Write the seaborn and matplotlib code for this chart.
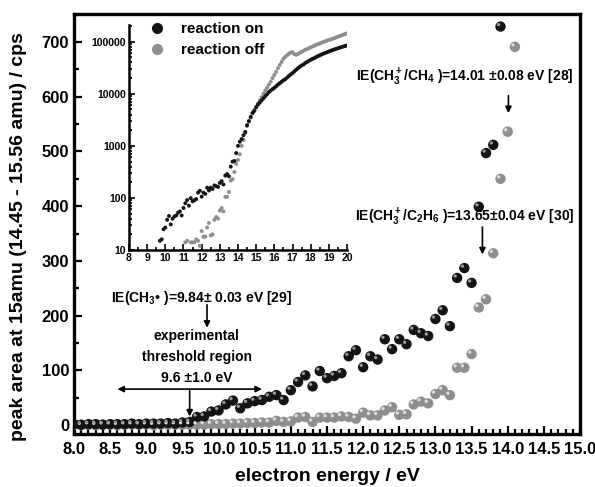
import numpy as np
import pandas as pd
import matplotlib
matplotlib.use('Agg')
import matplotlib.pyplot as plt
import matplotlib.transforms as mtransforms
from matplotlib.lines import Line2D
from matplotlib.ticker import MultipleLocator, LogLocator, NullFormatter
import seaborn as sns

######## data (0.1 eV steps) ########
energy_on = np.round(np.arange(80, 140) / 10, 1)     # 8.0 ... 13.9 eV
counts_on = [2, 1, 2, 2, 1, 2, 2, 2, 3, 2, 3, 3, 3, 4, 3,
             5, 6, 15, 16, 25, 27, 38, 45, 31, 40, 44, 46, 52, 55, 46,
             64, 79, 91, 71, 99, 86, 90, 95, 126, 137,
             106, 126, 120, 157, 139, 157, 148, 174, 168, 163,
             194, 210, 181, 269, 287, 260, 399, 497, 512, 728]

energy_off = np.round(np.arange(80, 142) / 10, 1)    # 8.0 ... 14.1 eV
counts_off = [1, 0, 1, 0, 1, 1, 0, 1, 1, 1, 1, 0, 1, 1, 1, 1, 1,
              1, 1, 2, 2, 2, 3, 3, 4, 4, 5, 5, 8, 6,
              7, 14, 15, 6, 14, 14, 14, 16, 15, 12,
              23, 18, 18, 27, 33, 19, 20, 38, 43, 40,
              57, 64, 55, 105, 105, 130, 215, 230, 314, 450, 536, 691]

# inset (log scale) continues both scans up to 20 eV
tail_energy_on = np.round(np.arange(140, 201) / 10, 1)   # 14.0 ... 20.0
tail_counts_on = [1000, 1200, 1350, 1600, 1850, 2500, 3000, 3600, 4300, 4700,
                  5500, 6200, 6800, 7500, 8200, 9000, 9800, 10800, 11500, 12300,
                  13000, 14000, 15000, 16000, 17000, 18200, 19000, 20500, 22000, 23500,
                  25000, 27000, 29000, 31000, 33000, 35000, 36500, 39000, 41000, 43000,
                  45000, 47000, 48500, 51000, 53000, 55000, 57000, 59000, 61000, 63000,
                  65000, 67000, 69000, 71000, 73000, 75000, 77000, 79000, 81000, 83000, 85000]

tail_energy_off = np.round(np.arange(142, 201) / 10, 1)  # 14.2 ... 20.0
tail_counts_off = [1000, 1300, 1750, 2400, 2900, 3500, 4200, 4900,
                   5600, 6500, 7500, 8600, 10000, 11500, 13000, 15000, 17000, 20000,
                   23000, 26500, 31000, 36000, 41000, 47000, 51000, 55000, 59000, 62000,
                   63000, 58000, 56000, 58000, 61000, 64000, 67000, 70000, 72000, 75000,
                   78000, 81000, 84000, 87000, 90000, 93000, 96000, 99000, 102000, 105000,
                   108000, 111000, 114000, 117000, 121000, 125000, 129000, 133000, 137000, 141000, 145000]

labels = ['reaction on', 'reaction off']

main_df = pd.concat([
    pd.DataFrame({'energy': energy_off, 'counts': counts_off, 'reaction': labels[1]}),
    pd.DataFrame({'energy': energy_on, 'counts': counts_on, 'reaction': labels[0]}),
], ignore_index=True)

inset_df = pd.concat([
    pd.DataFrame({'energy': np.concatenate([energy_off, tail_energy_off]),
                  'counts': counts_off + tail_counts_off, 'reaction': labels[1]}),
    pd.DataFrame({'energy': np.concatenate([energy_on, tail_energy_on]),
                  'counts': counts_on + tail_counts_on, 'reaction': labels[0]}),
], ignore_index=True)
inset_df = inset_df[inset_df['counts'] > 0]

base_pal = {labels[0]: '#141414', labels[1]: '#8e8e8e'}
shine_pal = {labels[0]: '#9a9a9a', labels[1]: '#dedede'}

######## style ########
sns.set_theme(style='ticks')
plt.rcParams['font.family'] = ['Liberation Sans', 'DejaVu Sans']
plt.rcParams['font.weight'] = 'bold'
plt.rcParams['axes.labelweight'] = 'bold'
plt.rcParams['text.color'] = 'black'
plt.rcParams['axes.labelcolor'] = 'black'
plt.rcParams['xtick.color'] = 'black'
plt.rcParams['ytick.color'] = 'black'
plt.rcParams['mathtext.fontset'] = 'custom'
plt.rcParams['mathtext.rm'] = 'Liberation Sans:bold'
plt.rcParams['mathtext.it'] = 'Liberation Sans:bold'
plt.rcParams['mathtext.bf'] = 'Liberation Sans:bold'


def draw_balls(ax, df, size, shine=True):
    sns.scatterplot(data=df, x='energy', y='counts', hue='reaction', palette=base_pal,
                    s=size, linewidth=0, legend=False, ax=ax, zorder=3)
    if shine:
        sns.scatterplot(data=df, x='energy', y='counts', hue='reaction', palette=shine_pal,
                        s=size * 0.1, linewidth=0, legend=False, ax=ax, zorder=4)
        hl = ax.collections[-1]
        hl.set_offset_transform(mtransforms.offset_copy(ax.transData, fig=ax.figure,
                                                        x=-1.4, y=1.4, units='points'))


fig = plt.figure(figsize=(5.95, 4.87), dpi=100)
ax = fig.add_axes([0.1244, 0.1088, 0.8504, 0.8625])

draw_balls(ax, main_df, 56)

ax.set_xlim(8.0, 15.0)
ax.set_ylim(-16, 751)
ax.xaxis.set_major_locator(MultipleLocator(0.5))
ax.xaxis.set_minor_locator(MultipleLocator(0.1))
ax.yaxis.set_major_locator(MultipleLocator(100))
ax.yaxis.set_minor_locator(MultipleLocator(50))
ax.xaxis.set_major_formatter(plt.FuncFormatter(lambda v, p: '%.1f' % v))
ax.tick_params(which='both', direction='in', width=1.6, labelsize=12, top=False, right=False)
ax.tick_params(which='major', length=6)
ax.tick_params(which='minor', length=3.5)
ax.tick_params(axis='x', pad=6)
for sp in ax.spines.values():
    sp.set_linewidth(2.4)
    sp.set_color('black')

ax.set_xlabel('electron energy / eV', fontsize=14, labelpad=8)
ax.set_ylabel('peak area at 15amu (14.45 - 15.56 amu) / cps', fontsize=14)
ax.yaxis.set_label_coords(-0.092, 0.47)

######## annotations ########
arrow = dict(arrowstyle='-|>', color='black', lw=1.2, mutation_scale=9, shrinkA=0, shrinkB=0)
txt = dict(fontsize=10, fontweight='bold', ha='center', va='center')

ax.text(13.41, 636, r'IE(CH$_3^+$/CH$_4$ )=14.01 ±0.08 eV [28]', **txt)
ax.annotate('', xy=(14.01, 570), xytext=(14.01, 602), arrowprops=arrow)

ax.text(13.41, 380, r'IE(CH$_3^+$/C$_2$H$_6$ )=13.65±0.04 eV [30]', **txt)
ax.annotate('', xy=(13.65, 312), xytext=(13.65, 362), arrowprops=arrow)

ax.text(9.77, 232, r'IE(CH$_3$• )=9.84± 0.03 eV [29]', **txt)
ax.annotate('', xy=(9.84, 178), xytext=(9.84, 220), arrowprops=arrow)

ax.text(9.70, 163, 'experimental', **txt)
ax.text(9.70, 124, 'threshold region', **txt)
ax.text(9.70, 86, '9.6 ±1.0 eV', **txt)
ax.annotate('', xy=(8.6, 66), xytext=(10.6, 66),
            arrowprops=dict(arrowstyle='<|-|>', color='black', lw=1.2, mutation_scale=9,
                            shrinkA=0, shrinkB=0))
ax.annotate('', xy=(9.6, 16), xytext=(9.6, 66), arrowprops=arrow)

######## inset ########
axin = fig.add_axes([0.2168, 0.4867, 0.3664, 0.462])
draw_balls(axin, inset_df, 8, shine=False)
axin.set_yscale('log')
axin.set_xlim(8, 20)
axin.set_ylim(10, 2.1e5)
axin.xaxis.set_major_locator(MultipleLocator(1))
axin.xaxis.set_minor_locator(MultipleLocator(0.5))
axin.yaxis.set_major_locator(LogLocator(base=10, numticks=10))
axin.yaxis.set_minor_locator(LogLocator(base=10, subs=np.arange(2, 10), numticks=10))
axin.yaxis.set_minor_formatter(NullFormatter())
axin.yaxis.set_major_formatter(plt.FuncFormatter(lambda v, p: '%d' % round(v)))
axin.tick_params(which='both', direction='in', width=1.2, labelsize=7.5, top=False, right=False, pad=2)
axin.tick_params(which='major', length=4)
axin.tick_params(which='minor', length=2)
sns.despine(ax=axin)
for sp in ['left', 'bottom']:
    axin.spines[sp].set_linewidth(1.8)
    axin.spines[sp].set_color('black')
axin.set_xlabel('')
axin.set_ylabel('')
axin.patch.set_alpha(0)

handles = [Line2D([], [], marker='o', ls='', color=base_pal[l], markersize=7) for l in labels]
axin.legend(handles, labels, loc='upper left', bbox_to_anchor=(0.03, 1.04), frameon=False,
            prop={'weight': 'bold', 'size': 11}, handletextpad=0.6, labelspacing=0.45,
            borderaxespad=0)

fig.savefig('out.png', dpi=100)
